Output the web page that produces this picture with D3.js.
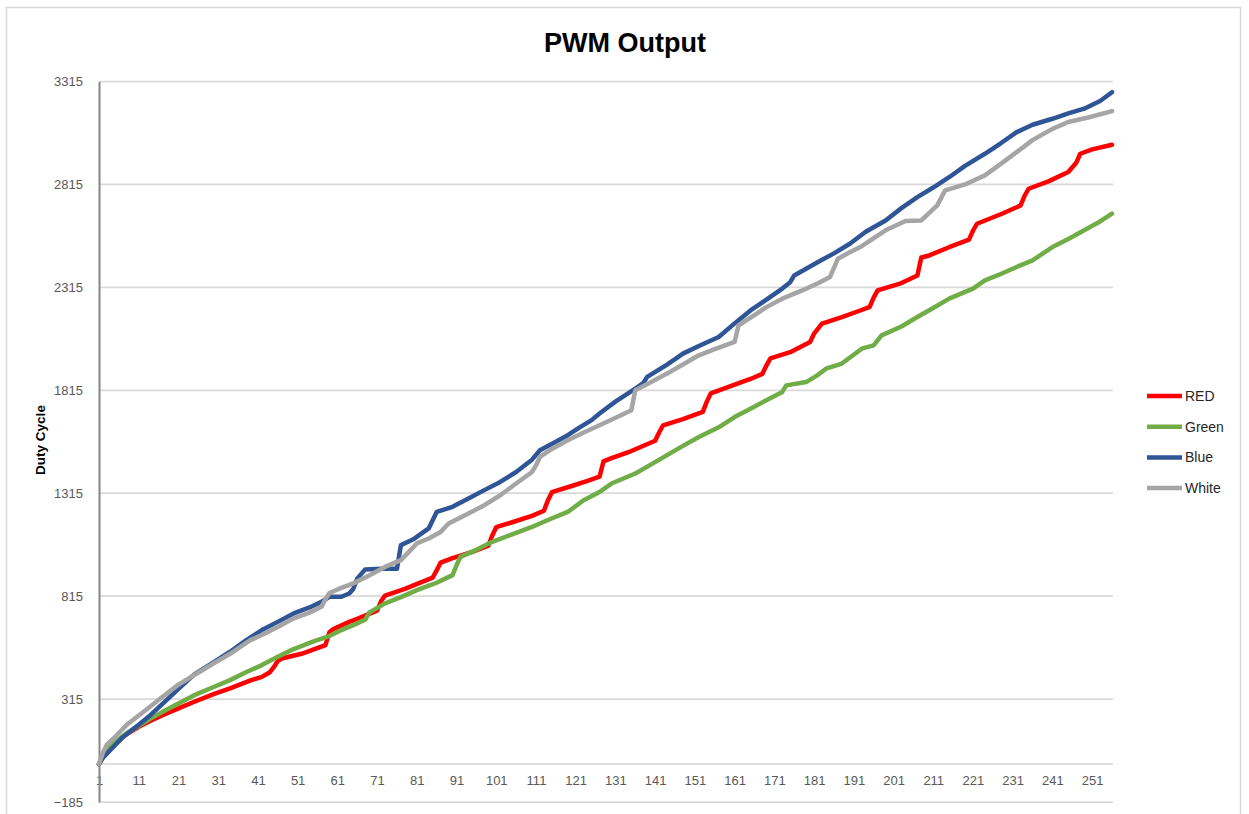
<!DOCTYPE html>
<html>
<head>
<meta charset="utf-8">
<title>PWM Output</title>
<script src="https://cdn.jsdelivr.net/npm/d3@7"></script>
<style>
    html, body { margin: 0; padding: 0; background: #fff; }
    svg { display: block; font-family: 'Liberation Sans', Arial, sans-serif; }
    .grid line { stroke: #d9d9d9; stroke-width: 1.75; }
    .tick-label { fill: #595959; font-size: 13px; }
    .series { fill: none; stroke-width: 4.5; stroke-linejoin: round; stroke-linecap: round; }
</style>
</head>
<body>
<svg id="chart"></svg>
<script>
// Category axis: PWM step 1..256, labelled every 10
const categories = d3.range(1, 257);
const xTickLabels = d3.range(1, 257, 10);
const yTicks = [-185, 315, 815, 1315, 1815, 2315, 2815, 3315];

// Series values as [step, duty cycle]
const redData = [
    [1, 0], [2, 40], [4, 85], [6, 115], [8, 145], [11, 180], [14, 210], [17, 237],
    [21, 270], [25, 302], [30, 340], [34, 367], [39, 405], [42, 423], [44, 445],
    [45, 470], [46, 500], [47, 512], [52, 535], [58, 577], [59, 640], [60, 655],
    [64, 690], [66, 705], [71, 745], [72, 790], [73, 818], [78, 850], [85, 905],
    [86, 940], [87, 978], [90, 1000], [95, 1030], [99, 1060], [100, 1110], [101, 1150],
    [106, 1180], [110, 1205], [113, 1230], [114, 1280], [115, 1320], [120, 1350],
    [124, 1375], [127, 1395], [128, 1470], [130, 1485], [135, 1520], [141, 1570],
    [142, 1610], [143, 1645], [148, 1675], [153, 1710], [154, 1760], [155, 1800],
    [160, 1835], [165, 1870], [168, 1895], [169, 1935], [170, 1970], [175, 2000],
    [180, 2050], [181, 2090], [183, 2139], [188, 2170], [193, 2205], [195, 2220],
    [196, 2265], [197, 2300], [203, 2336], [207, 2373], [208, 2460], [210, 2470],
    [215, 2510], [220, 2547], [221, 2590], [222, 2624], [228, 2670], [233, 2713],
    [234, 2760], [235, 2794], [240, 2830], [245, 2875], [247, 2920], [248, 2964],
    [251, 2985], [256, 3008]
];

const greenData = [
    [1, 0], [2, 35], [3, 65], [5, 105], [8, 150], [11, 185], [14, 220], [17, 253],
    [21, 293], [25, 334], [30, 375], [34, 407], [38, 445], [42, 480], [46, 520],
    [50, 558], [55, 595], [59, 621], [62, 650], [65, 674], [68, 700], [69, 735],
    [73, 780], [77, 810], [81, 844], [86, 880], [90, 917], [91, 965], [92, 1006],
    [96, 1040], [100, 1079], [105, 1115], [110, 1151], [114, 1185], [119, 1224],
    [123, 1281], [127, 1321], [130, 1362], [136, 1411], [140, 1455], [144, 1500],
    [148, 1545], [152, 1588], [157, 1635], [161, 1685], [165, 1725], [169, 1767],
    [173, 1807], [174, 1839], [179, 1855], [182, 1890], [184, 1920], [188, 1945],
    [193, 2017], [196, 2033], [198, 2082], [203, 2125], [207, 2171], [211, 2215],
    [215, 2260], [221, 2309], [224, 2349], [228, 2380], [232, 2414], [236, 2446],
    [241, 2511], [245, 2550], [249, 2592], [253, 2635], [256, 2673]
];

const blueData = [
    [1, 0], [2, 30], [4, 70], [7, 130], [11, 190], [14, 238], [18, 310], [21, 365],
    [25, 435], [30, 495], [34, 545], [38, 600], [42, 650], [46, 690], [50, 731],
    [54, 760], [57, 787], [59, 812], [62, 812], [64, 828], [65, 850], [66, 900],
    [68, 945], [72, 948], [76, 948], [77, 1063], [80, 1090], [84, 1144], [86, 1224],
    [90, 1249], [94, 1289], [98, 1330], [102, 1370], [106, 1418], [110, 1478],
    [112, 1524], [116, 1565], [119, 1597], [122, 1635], [125, 1670], [127, 1702],
    [131, 1760], [136, 1823], [138, 1850], [139, 1880], [144, 1940], [148, 1993],
    [152, 2030], [157, 2074], [161, 2140], [165, 2203], [169, 2255], [173, 2309],
    [175, 2340], [176, 2373], [182, 2438], [186, 2480], [190, 2527], [194, 2585],
    [199, 2640], [203, 2700], [207, 2753], [211, 2800], [215, 2850], [219, 2905],
    [224, 2964], [228, 3015], [232, 3069], [236, 3105], [241, 3134], [245, 3160],
    [249, 3183], [253, 3220], [256, 3263]
];

const whiteData = [
    [1, 0], [2, 55], [3, 95], [5, 130], [8, 190], [11, 235], [14, 280], [17, 326],
    [21, 385], [25, 432], [30, 490], [34, 535], [39, 600], [42, 626], [46, 665],
    [50, 707], [54, 735], [57, 763], [58, 800], [59, 830], [62, 855], [65, 877],
    [69, 915], [73, 957], [77, 990], [79, 1030], [81, 1071], [84, 1095], [87, 1127],
    [89, 1168], [94, 1216], [98, 1257], [102, 1305], [106, 1362], [110, 1418],
    [111, 1450], [112, 1491], [115, 1530], [119, 1572], [123, 1610], [127, 1645],
    [132, 1690], [135, 1718], [136, 1815], [140, 1855], [144, 1896], [148, 1940],
    [152, 1985], [156, 2015], [161, 2050], [162, 2131], [166, 2180], [169, 2219],
    [173, 2260], [178, 2300], [182, 2335], [185, 2365], [187, 2454], [190, 2486],
    [193, 2515], [199, 2592], [204, 2637], [208, 2640], [212, 2713], [214, 2786],
    [219, 2815], [224, 2859], [228, 2915], [232, 2972], [236, 3030], [241, 3085],
    [245, 3118], [250, 3140], [256, 3171]
];

const seriesNames = ['RED', 'Green', 'Blue', 'White'];
const seriesColors = ['#ff0000', '#70ad47', '#2f5597', '#a5a5a5'];

class PwmChart {
    constructor(selector) {
        this.width = 1249;
        this.height = 814;
        // plot area in page pixels
        this.plot = { left: 99, right: 1112, top: 81.5, bottom: 802 };

        this.svg = d3.select(selector)
            .attr('width', this.width)
            .attr('height', this.height);

        this.x = d3.scaleLinear()
            .domain(d3.extent(categories))
            .range([this.plot.left, this.plot.right]);

        this.y = d3.scaleLinear()
            .domain([yTicks[0], yTicks[yTicks.length - 1]])
            .range([this.plot.bottom, this.plot.top]);
    }

    render() {
        this.drawFrame();
        this.drawGrid();
        this.drawAxes();
        this.drawSeries();
        this.drawLegend();
        this.drawTitles();
    }

    drawFrame() {
        // thin chart-area border like the spreadsheet export
        this.svg.append('rect')
            .attr('x', 6.5).attr('y', 7.5)
            .attr('width', 1234).attr('height', 812)
            .attr('fill', '#fff')
            .attr('stroke', '#d9d9d9')
            .attr('stroke-width', 1.5);
    }

    drawGrid() {
        const grid = this.svg.append('g').attr('class', 'grid');
        grid.selectAll('line')
            .data(yTicks)
            .join('line')
            .attr('x1', this.plot.left)
            .attr('x2', this.plot.right + 1)
            .attr('y1', d => this.y(d))
            .attr('y2', d => this.y(d));
    }

    drawAxes() {
        // horizontal (category) axis crosses at zero
        const xAxis = d3.axisBottom(this.x)
            .tickValues(xTickLabels)
            .tickSize(0)
            .tickPadding(12)
            .tickFormat(d3.format('d'));

        const gx = this.svg.append('g')
            .attr('transform', `translate(0,${this.y(0)})`)
            .call(xAxis);
        gx.select('.domain')
            .attr('d', `M${this.plot.left},0H${this.plot.right + 1}`)
            .attr('stroke', '#d9d9d9')
            .attr('stroke-width', 1.75);
        gx.selectAll('text')
            .attr('class', 'tick-label')
            .attr('font-family', null)
            .attr('font-size', null);

        const yAxis = d3.axisLeft(this.y)
            .tickValues(yTicks)
            .tickSize(0)
            .tickPadding(16)
            .tickFormat(d3.format('d'));

        const gy = this.svg.append('g')
            .attr('transform', `translate(${this.plot.left},0)`)
            .call(yAxis);
        gy.select('.domain')
            .attr('stroke', '#868686')
            .attr('stroke-width', 2);
        gy.selectAll('text')
            .attr('class', 'tick-label')
            .attr('font-family', null)
            .attr('font-size', null);
    }

    drawSeries() {
        const line = d3.line()
            .x(d => this.x(d[0]))
            .y(d => this.y(d[1]));

        const all = [redData, greenData, blueData, whiteData];

        this.svg.append('g')
            .attr('class', 'lines')
            .selectAll('path')
            .data(all)
            .join('path')
            .attr('class', 'series')
            .attr('stroke', (d, i) => seriesColors[i])
            .attr('d', line);
    }

    drawLegend() {
        const legend = this.svg.append('g')
            .attr('class', 'legend')
            .attr('transform', 'translate(1147,396)');

        const item = legend.selectAll('g')
            .data(seriesNames)
            .join('g')
            .attr('transform', (d, i) => `translate(0,${i * 30.7})`);

        item.append('line')
            .attr('x1', 0).attr('x2', 35)
            .attr('stroke', (d, i) => seriesColors[i])
            .attr('stroke-width', 4.5);

        item.append('text')
            .attr('x', 38)
            .attr('dy', '0.35em')
            .attr('font-size', '14px')
            .attr('fill', '#262626')
            .text(d => d);
    }

    drawTitles() {
        this.svg.append('text')
            .attr('x', 625)
            .attr('y', 52)
            .attr('text-anchor', 'middle')
            .attr('font-size', '27px')
            .attr('font-weight', 'bold')
            .attr('fill', '#000')
            .text('PWM Output');

        this.svg.append('text')
            .attr('transform', 'translate(45,440) rotate(-90)')
            .attr('text-anchor', 'middle')
            .attr('font-size', '13.5px')
            .attr('font-weight', 'bold')
            .attr('fill', '#000')
            .text('Duty Cycle');
    }
}

const chart = new PwmChart('#chart');
chart.render();
</script>
</body>
</html>
